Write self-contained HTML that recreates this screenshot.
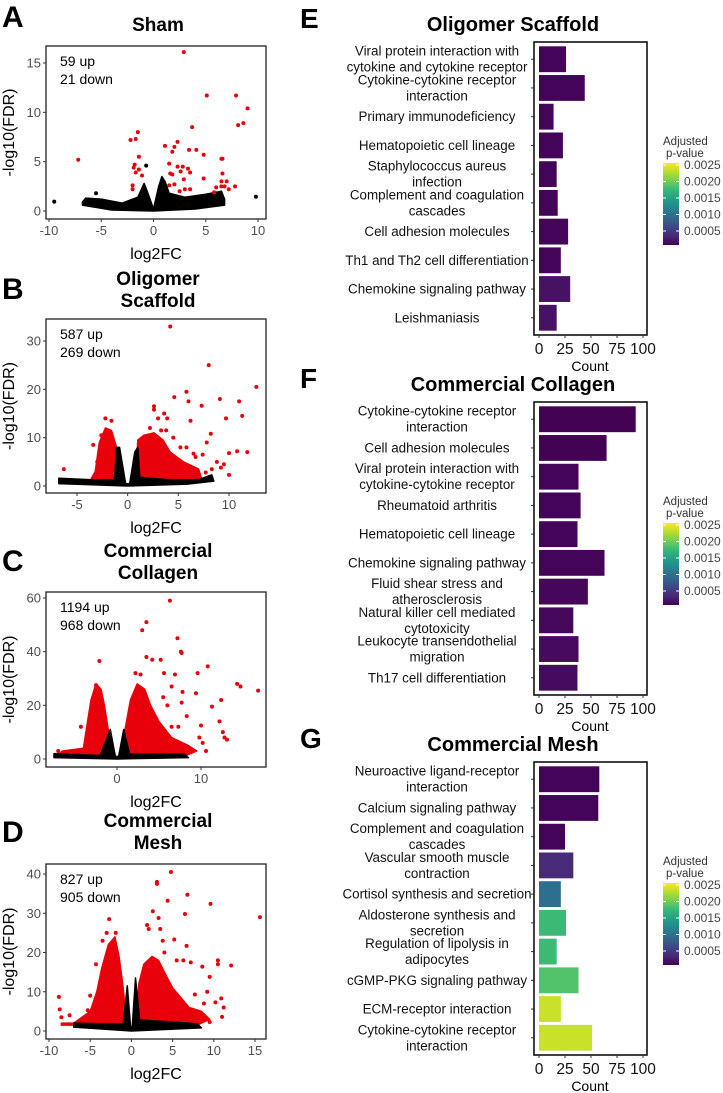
<!DOCTYPE html>
<html><head><meta charset="utf-8">
<style>
html,body{margin:0;padding:0;background:#fff;}
svg{display:block;font-family:"Liberation Sans",Arial,sans-serif;}
</style></head>
<body>
<svg id="fig" width="723" height="1093" viewBox="0 0 723 1093"></svg>
<script>
// ---------- Volcano data ----------
const volcA_red = [[-7.2,5.2],[2.9,16.1],[5.1,11.7],[7.9,11.7],[9,10.4],[8.1,8.7],[8.6,8.9],[3.7,8.5],[-1.5,8],[-2.2,7.2],[-1.7,7.3],[1.1,6.6],[2,6.5],[2.3,7],[1.8,6],[3.4,6.2],[4.1,6.2],[4.8,5.7],[6.5,5.3],[6.6,5.3],[-1.4,5.5],[-1.8,4.7],[-1.9,4.4],[-1.4,4.2],[-1.7,3.9],[-1.1,3.6],[1.5,4.8],[2.6,4],[2.8,4.5],[2.3,4.5],[3.3,4.3],[3.5,3.9],[1.6,3.8],[1.8,3.7],[2.9,3.2],[4.8,3.3],[6.6,3.8],[6.5,3],[7,3],[6.8,2.5],[6.5,2.5],[7.2,2.2],[7.8,2.5],[6,2.4],[5.8,1.9],[2,2.7],[1.5,2.6],[-2,2.6],[-2,2.2],[3,2.2],[3.5,2.2],[2.5,2]];
const volcA_black = [[-9.5,0.95],[9.8,1.45],[-0.7,4.6],[-5.5,1.8]];
const volcA_cloud = [[-6.8,0.9],[-6.5,1.3],[-5,1.2],[-3,0.8],[-1.5,1.4],[-0.9,2.8],[-0.6,2],[0,0.2],[0.5,2.5],[0.8,3.5],[1.1,3],[1.5,1.8],[3,1.4],[5,1.7],[6.5,2],[6.8,1.2],[6.8,0.6],[4,0.2],[0,0],[-4,0.1],[-6.8,0.6]];
const volcA_redL = [];
const volcA_redR = [];

const volcB_red = [[4.2,33],[8,25],[12.7,20.5],[5.8,19.5],[4.6,18.4],[6,17.5],[9.1,18],[11,17.5],[7.3,16.6],[2.6,16.5],[2.6,15.8],[11.3,14.5],[9.7,14],[3.6,15],[3,14],[6.2,13.5],[3.9,14],[-2.2,14],[-1.6,13.5],[8.2,10.8],[-3.4,8.5],[-6.3,3.5],[10,6.8],[10.8,7.2],[11.8,7],[10,2.3],[9.5,4.5],[5.8,8],[5.2,8],[6.5,6.7],[7.8,9],[7.4,6.5],[8.8,5],[6.7,6],[-2.6,10.5],[-3,5],[8.3,3.5],[9.2,3.8],[7.7,2.8],[3.3,11.5],[3.8,11.5],[4.5,10],[2.2,12]];
const volcB_black = [[8,1.8],[7.7,1.4]];
const volcB_cloud = [[-6.8,0.8],[-6.8,1.6],[-3.5,1.3],[-1.3,1.3],[-1.1,8],[-0.8,8],[-0.2,0.5],[0.2,0.5],[0.7,7],[1.0,8],[1.2,1.8],[4,1.3],[6,1.3],[7,1.3],[8.3,2.3],[8.5,1],[6,0.4],[0,0],[-6.8,0.5]];
const volcB_redL = [[-3.6,1.5],[-3.2,3],[-2.8,9],[-2.2,12],[-1.6,11.5],[-1.1,8],[-0.7,2],[-1,1.2],[-3.6,1.2]];
const volcB_redR = [[0.8,2],[1,9.5],[1.6,10.5],[2.6,11],[3.5,9.5],[4.2,7],[5.5,5],[7,3.5],[7.3,1.5],[4,1.2],[0.8,1.2]];

const volcC_red = [[6.3,59],[3.5,51],[3,48],[7.2,45],[7.6,40],[7.7,39.5],[3.5,38],[4.2,37],[5.2,37],[-2.1,36.5],[10.8,34.5],[9.6,32],[5.6,32],[6.9,31.5],[14.3,28],[14.7,27],[16.8,25.5],[6.5,27],[7.8,25],[9.4,24.5],[12.4,22],[11.3,19.5],[7.7,21],[8.3,16],[12.2,14],[10,12.5],[12.6,10],[12.8,8],[13.1,7.2],[10.6,3],[-4.3,12],[-7,3],[-5.5,2.5],[2.2,32],[2.8,31.5],[-2.5,27.5],[5.5,23],[6,20],[6.5,12],[7.3,12],[9.8,8],[10.2,6]];
const volcC_black = [];
const volcC_cloud = [[-7.5,0.5],[-7.5,2],[-2,1.3],[-0.8,11],[-0.2,1],[0.2,1],[0.8,11],[1.5,1.8],[5,1.8],[8,1.8],[8.5,0.5],[0,0]];
const volcC_redL = [[-7,1.5],[-6.5,3],[-4,4],[-3.6,12],[-3.1,22],[-2.5,28],[-1.9,26],[-1.5,20],[-1.1,12],[-0.6,2],[-1,1],[-7,1]];
const volcC_redR = [[0.6,2],[0.9,10],[1.6,22],[2.4,28],[3.3,26],[4,20],[5,14],[6.5,8],[8.5,5],[9.5,3],[8,1],[0.6,1]];

const volcD_red = [[4.8,40.5],[3.1,38],[3.1,37.5],[6.8,34.7],[9.6,32.4],[4.4,33.2],[2.6,30.5],[6.5,29.8],[15.6,29],[-2.7,28.5],[1.9,27],[2.1,26],[3.3,28.8],[3.5,26],[-3,25],[-1.9,25],[5.2,23.3],[6.7,21.7],[7.2,17.5],[10.5,18],[12.1,16.7],[8.6,16.4],[10.5,17],[-8.8,8.7],[-8.7,5.5],[-8.5,3.5],[9.5,13.8],[9.5,2.3],[11,3.6],[11.2,6],[10.9,8.3],[10.2,7.3],[7.7,9.3],[8.8,7],[9.2,10],[-7.5,4],[-5.3,5.3],[-5,9],[-3.5,23],[4,20],[5.5,18],[6.3,18],[3.8,23],[-4.3,17]];
const volcD_black = [];
const volcD_cloud = [[-7,1],[-7,2],[-3,1.8],[-1,1.8],[-0.5,11.5],[-0.1,1],[0.1,1],[0.5,13.5],[1,2.8],[5,2.3],[8,1.8],[8.5,0.8],[0,0]];
const volcD_redL = [[-8.5,2],[-7,2],[-5,5],[-4.2,10],[-3.6,16],[-2.8,22],[-2,24],[-1.5,19],[-1,11],[-0.6,2],[-2,1.5],[-8.5,1.5]];
const volcD_redR = [[0.6,2],[0.9,12],[1.5,17],[2.5,19],[3.3,18],[4,15],[5,11],[7,6],[8.5,5],[9.5,3],[8,1.5],[0.6,1.5]];

// ---------- Bar data ----------
const catsE = ["Viral protein interaction with|cytokine and cytokine receptor","Cytokine-cytokine receptor|interaction","Primary immunodeficiency","Hematopoietic cell lineage","Staphylococcus aureus|infection","Complement and coagulation|cascades","Cell adhesion molecules","Th1 and Th2 cell differentiation","Chemokine signaling pathway","Leishmaniasis"];
const countsE = [26,44,14,23,17,18,28,21,30,17];
const padjE = [0.00002,0.00002,0.00002,0.00002,0.00002,0.00002,0.00002,0.00002,0.00012,0.00012];

const catsF = ["Cytokine-cytokine receptor|interaction","Cell adhesion molecules","Viral protein interaction with|cytokine-cytokine receptor","Rheumatoid arthritis","Hematopoietic cell lineage","Chemokine signaling pathway","Fluid shear stress and|atherosclerosis","Natural killer cell mediated|cytotoxicity","Leukocyte transendothelial|migration","Th17 cell differentiation"];
const countsF = [93,65,38,40,37,63,47,33,38,37];
const padjF = [0.00001,0.00001,0.00002,0.00002,0.00002,0.00003,0.00004,0.00005,0.00007,0.00008];

const catsG = ["Neuroactive ligand-receptor|interaction","Calcium signaling pathway","Complement and coagulation|cascades","Vascular smooth muscle|contraction","Cortisol synthesis and secretion","Aldosterone synthesis and|secretion","Regulation of lipolysis in|adipocytes","cGMP-PKG signaling pathway","ECM-receptor interaction","Cytokine-cytokine receptor|interaction"];
const countsG = [58,57,25,33,21,26,17,38,21,51];
const padjG = [0.00002,0.00002,0.00003,0.0003,0.0009,0.0017,0.0017,0.0018,0.0023,0.0023];

const countTicks = [0,25,50,75,100];
const legendTicks = ["0.0025","0.0020","0.0015","0.0010","0.0005"];

const NS = "http://www.w3.org/2000/svg";
const svg = document.getElementById("fig");
function mk(tag, attrs, parent){
  const e = document.createElementNS(NS, tag);
  for (const k in attrs) e.setAttribute(k, attrs[k]);
  (parent||svg).appendChild(e);
  return e;
}
const viridis = ["#440154","#482878","#3e4989","#31688e","#26828e","#1f9e89","#35b779","#6ece58","#b5de2b","#fde725"];
function vcol(p){
  let t = Math.max(0, Math.min(1, p/0.0025));
  let i = Math.min(8, Math.floor(t*9)), f = t*9 - i;
  const a = viridis[i], b = viridis[i+1];
  const h = s => [1,3,5].map(j=>parseInt(s.substr(j,2),16));
  const ca = h(a), cb = h(b);
  return "rgb(" + ca.map((v,j)=>Math.round(v+(cb[j]-v)*f)).join(",") + ")";
}

// ---------- Volcano ----------
function volcano(cfg){
  const g = mk("g", {});
  
  
  const sx = v => cfg.x0px + (v - cfg.x0) * (cfg.x1px - cfg.x0px) / (cfg.x1 - cfg.x0);
  const sy = v => cfg.y0px + (v - cfg.y0) * (cfg.y1px - cfg.y0px) / (cfg.y1 - cfg.y0);
  const L = mk("text", {x:2, y:cfg.top+24, "font-size":30, "font-weight":"bold"}, g);
  L.textContent = cfg.letter;
  
  
  cfg.title.forEach((t,i)=>{
    const T = mk("text", {x:158, y:cfg.titleY + i*22, "font-size":19, "font-weight":"bold", "text-anchor":"middle"}, g);
    T.textContent = t;
    
    
  });
  const clip = "clip"+cfg.letter;
  const cp = mk("clipPath", {id:clip}, g);
  mk("rect", {x:46, y:cfg.by0, width:220, height:cfg.by1-cfg.by0}, cp);
  const pg = mk("g", {"clip-path":"url(#"+clip+")"}, g);
  const poly = (arr, col) => {
    if (!arr.length) return;
    const p = mk("polygon", {points: arr.map(d=>sx(d[0])+","+sy(d[1])).join(" "), fill:col, stroke:col, "stroke-width":1.5, "stroke-linejoin":"round"}, pg);
    
    
  };
  poly(cfg.redL, "#e8000b");
  poly(cfg.redR, "#e8000b");
  poly(cfg.cloud, "#000");
  cfg.black.forEach(d=>{
    const c = mk("circle", {cx:sx(d[0]), cy:sy(d[1]), r:2, fill:"#000"}, pg);
    
    
  });
  cfg.red.forEach(d=>{
    const c = mk("circle", {cx:sx(d[0]), cy:sy(d[1]), r:2, fill:"#e8000b"}, pg);
    
    
  });
  const box = mk("rect", {x:46, y:cfg.by0, width:220, height:cfg.by1-cfg.by0, fill:"none", stroke:"#222", "stroke-width":1.3}, g);
  
  
  cfg.xt.forEach(v=>{
    mk("line", {x1:sx(v), x2:sx(v), y1:cfg.by1, y2:cfg.by1+3, stroke:"#333"}, g);
    const t = mk("text", {x:sx(v), y:cfg.by1+16, "font-size":13, fill:"#4d4d4d", "text-anchor":"middle"}, g);
    t.textContent = v;
    
    
  });
  cfg.yt.forEach(v=>{
    mk("line", {x1:43, x2:46, y1:sy(v), y2:sy(v), stroke:"#333"}, g);
    const t = mk("text", {x:41, y:sy(v)+4.5, "font-size":13, fill:"#4d4d4d", "text-anchor":"end"}, g);
    t.textContent = v;
    
    
  });
  const xl = mk("text", {x:156, y:cfg.by1+40, "font-size":16, "text-anchor":"middle"}, g);
  xl.textContent = "log2FC";
  
  
  const cy = (cfg.by0+cfg.by1)/2;
  const yl = mk("text", {x:0, y:0, "font-size":16, "text-anchor":"middle", transform:"translate(14,"+cy+") rotate(-90)"}, g);
  yl.textContent = "-log10(FDR)";
  
  
  cfg.counts.forEach((s,i)=>{
    const t = mk("text", {x:60, y:cfg.by0+20+i*18, "font-size":14}, g);
    t.textContent = s;
    
    
  });
}

volcano({name:"volcano-sham", letter:"A", top:3, title:["Sham"], titleY:31, by0:46, by1:219,
  x0:-10,x1:10,x0px:49,x1px:258, y0:0,y1:15,y0px:211,y1px:63,
  xt:[-10,-5,0,5,10], yt:[0,5,10,15], counts:["59 up","21 down"],
  red:volcA_red, black:volcA_black, cloud:volcA_cloud, redL:volcA_redL, redR:volcA_redR});
volcano({name:"volcano-oligomer-scaffold", letter:"B", top:275, title:["Oligomer","Scaffold"], titleY:285, by0:319, by1:493,
  x0:-5,x1:10,x0px:77,x1px:229, y0:0,y1:30,y0px:486,y1px:341,
  xt:[-5,0,5,10], yt:[0,10,20,30], counts:["587 up","269 down"],
  red:volcB_red, black:volcB_black, cloud:volcB_cloud, redL:volcB_redL, redR:volcB_redR});
volcano({name:"volcano-commercial-collagen", letter:"C", top:547, title:["Commercial","Collagen"], titleY:557, by0:592, by1:767,
  x0:0,x1:10,x0px:117,x1px:201, y0:0,y1:60,y0px:759,y1px:598,
  xt:[0,10], yt:[0,20,40,60], counts:["1194 up","968 down"],
  red:volcC_red, black:volcC_black, cloud:volcC_cloud, redL:volcC_redL, redR:volcC_redR});
volcano({name:"volcano-commercial-mesh", letter:"D", top:818, title:["Commercial","Mesh"], titleY:827, by0:864, by1:1039,
  x0:-10,x1:15,x0px:49,x1px:255, y0:0,y1:40,y0px:1031,y1px:874,
  xt:[-10,-5,0,5,10,15], yt:[0,10,20,30,40], counts:["827 up","905 down"],
  red:volcD_red, black:volcD_black, cloud:volcD_cloud, redL:volcD_redL, redR:volcD_redR});

// ---------- Bar panels ----------
const defs = mk("defs", {});
const grad = mk("linearGradient", {id:"vir", x1:0, y1:1, x2:0, y2:0}, defs);
viridis.forEach((c,i)=>mk("stop", {offset:(i/9*100)+"%", "stop-color":c}, grad));

function bars(cfg){
  const off = cfg.off;
  const g = mk("g", {});
  
  
  const L = mk("text", {x:300, y:off+28, "font-size":28, "font-weight":"bold"}, g);
  L.textContent = cfg.letter;
  
  
  const T = mk("text", {x:513, y:off+31, "font-size":20, "font-weight":"bold", "text-anchor":"middle"}, g);
  T.textContent = cfg.title;
  
  
  const bx0 = 534, bx1 = 647, by0 = off+42, by1 = off+335;
  const sx = v => 539 + v * 1.04;
  const band = (by1-by0)/10.2;
  const cy = i => by0 + (i+0.6)*band;
  cfg.cats.forEach((c,i)=>{
    const r = mk("rect", {x:sx(0), y:cy(i)-band*0.45, width:sx(cfg.counts[i])-sx(0), height:band*0.9, fill:vcol(cfg.padj[i])}, g);
    
    
    mk("line", {x1:bx0-3, x2:bx0, y1:cy(i), y2:cy(i), stroke:"#333"}, g);
    const lines = c.split("|");
    lines.forEach((ln,j)=>{
      const t = mk("text", {x:437, y:cy(i)+4.5 + (j - (lines.length-1)/2)*16, "font-size":13.4, "text-anchor":"middle", fill:"#111"}, g);
      t.textContent = ln;
      
      
    });
  });
  const box = mk("rect", {x:bx0, y:by0, width:bx1-bx0, height:by1-by0, fill:"none", stroke:"#111", "stroke-width":1.6}, g);
  
  
  countTicks.forEach(v=>{
    mk("line", {x1:sx(v), x2:sx(v), y1:by1, y2:by1+3, stroke:"#333"}, g);
    const t = mk("text", {x:sx(v), y:by1+19, "font-size":15.5, "text-anchor":"middle", fill:"#111"}, g);
    t.textContent = v;
    
    
  });
  const xl = mk("text", {x:590, y:by1+36, "font-size":14, "text-anchor":"middle"}, g);
  xl.textContent = "Count";
  
  
  const lg = mk("g", {}, g);
  
  
  const lt1 = mk("text", {x:663, y:off+145, "font-size":11.5, fill:"#333"}, lg);
  lt1.textContent = "Adjusted";
  
  
  const lt2 = mk("text", {x:666, y:off+157, "font-size":11.5, fill:"#333"}, lg);
  lt2.textContent = "p-value";
  
  
  mk("rect", {x:663, y:off+163, width:16, height:82, fill:"url(#vir)"}, lg);
  legendTicks.forEach((s,i)=>{
    const y = off+165 + i*16.5;
    mk("line", {x1:663, x2:666, y1:y, y2:y, stroke:"#fff"}, lg);
    mk("line", {x1:676, x2:679, y1:y, y2:y, stroke:"#fff"}, lg);
    const t = mk("text", {x:684, y:y+4, "font-size":12, fill:"#444"}, lg);
    t.textContent = s;
    
    
  });
}
bars({name:"kegg-oligomer-scaffold", letter:"E", title:"Oligomer Scaffold", off:0, cats:catsE, counts:countsE, padj:padjE});
bars({name:"kegg-commercial-collagen", letter:"F", title:"Commercial Collagen", off:360, cats:catsF, counts:countsF, padj:padjF});
bars({name:"kegg-commercial-mesh", letter:"G", title:"Commercial Mesh", off:720, cats:catsG, counts:countsG, padj:padjG});
</script>
</body></html>
